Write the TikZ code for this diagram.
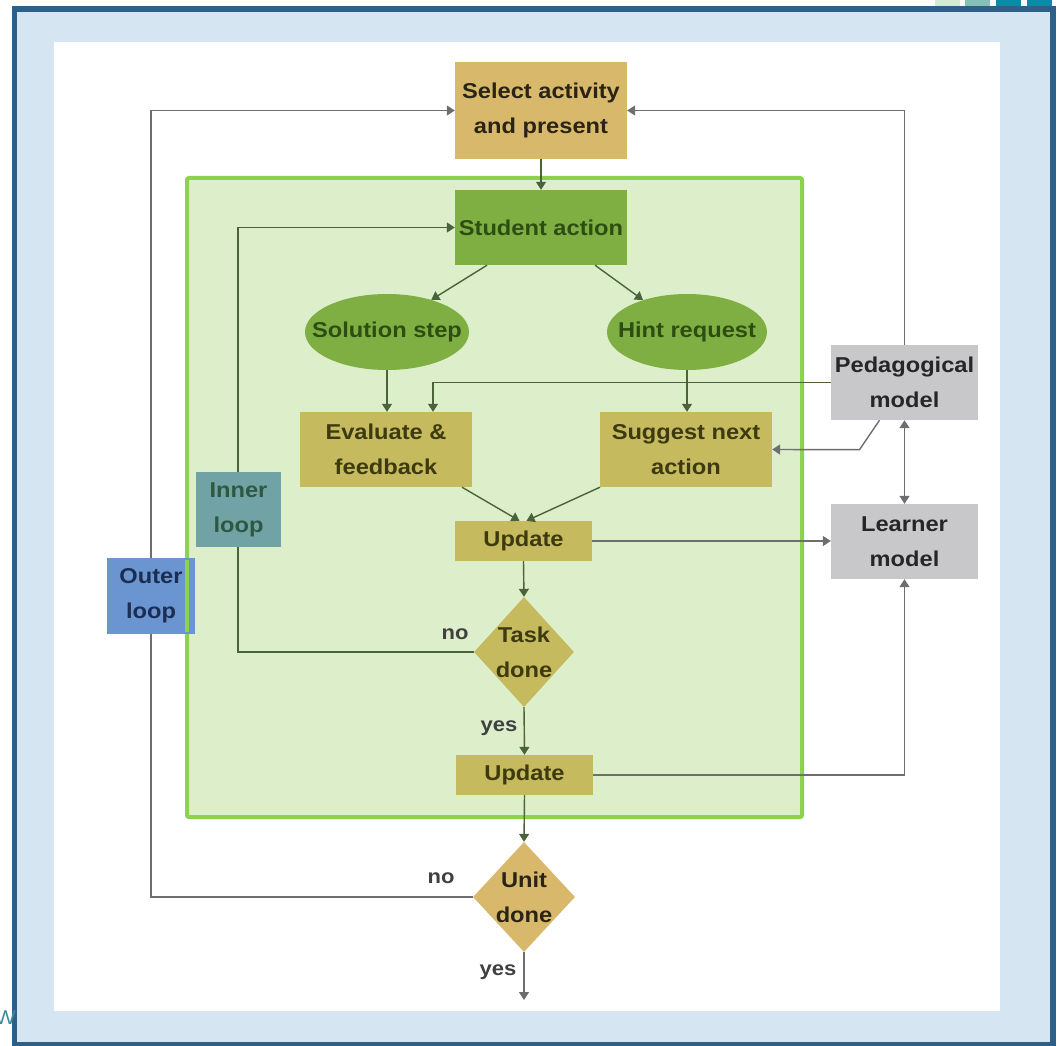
\documentclass[tikz,border=0pt]{standalone}
\usepackage{fontspec}
\setmainfont[FakeStretch=1.1]{Liberation Sans}
\usetikzlibrary{shapes.geometric,arrows.meta}

\definecolor{framedark}{HTML}{2D5F88}
\definecolor{framelight}{HTML}{D6E5F2}
\definecolor{loopborder}{HTML}{8CD24E}
\definecolor{loopfill}{HTML}{DDEFCA}
\definecolor{tan}{HTML}{D8B86B}
\definecolor{leaf}{HTML}{7FAF43}
\definecolor{olive}{HTML}{C6BA5E}
\definecolor{modelgrey}{HTML}{C8C8CA}
\definecolor{innerfill}{HTML}{71A3A6}
\definecolor{outerfill}{HTML}{6A95D0}
\definecolor{linegrey}{HTML}{6E6E6E}
\definecolor{linegreen}{HTML}{4B6338}
\definecolor{txtolive}{HTML}{3E3A10}
\definecolor{txtgreen}{HTML}{2E4D12}
\definecolor{txttan}{HTML}{2A2415}
\definecolor{txtinner}{HTML}{2E5840}
\definecolor{txtouter}{HTML}{1B2D52}
\definecolor{sqA}{HTML}{D3EAD5}
\definecolor{sqB}{HTML}{84C2B8}
\definecolor{sqC}{HTML}{0C89A6}
\definecolor{wteal}{HTML}{3B8C99}

\tikzset{
  lbl/.style={font=\bfseries\fontsize{21.5}{35}\selectfont, align=center},
  box/.style={rectangle, lbl, inner sep=0pt},
  oval/.style={ellipse, inner sep=0pt, fill=leaf},
  decision/.style={diamond, inner sep=0pt, draw=none},
  tip/.style={Triangle[width=10pt,length=8pt]},
  conn/.style={draw=linegrey, line width=1.4pt, -{Triangle[width=10pt,length=8pt]}},
  iconn/.style={draw=linegreen, line width=1.4pt, -{Triangle[width=10pt,length=8pt]}},
  answer/.style={font=\bfseries\fontsize{20}{24}\selectfont, text=black!75},
}

\begin{document}
\begin{tikzpicture}[x=1pt,y=-1pt]
  \useasboundingbox (0,0) rectangle (1058,1046);

  % slide frame and decorative squares
  \fill[sqA] (935,0) rectangle (960,6);
  \fill[sqB] (965,0) rectangle (990,6);
  \fill[sqC] (996,0) rectangle (1021,6);
  \fill[sqC] (1027,0) rectangle (1052,6);
  \fill[framedark] (12,6) rectangle (1056,1048);
  \fill[framelight] (17,12) rectangle (1050,1042);
  \fill[white] (54,42) rectangle (1000,1011);
  \node[text=wteal, font=\fontsize{20}{24}\selectfont, anchor=west, inner sep=0pt] (wmark) at (-5,1018) {W};

  % inner-loop container
  \fill[loopfill] (187,178) rectangle (802,817);
  \draw[loopborder, line width=4pt, rounded corners=2pt] (187,178) rectangle (802,817);

  % nodes
  \node[box, fill=tan, text=txttan, minimum width=172pt, minimum height=97pt] (sel) at (541,110.5) {Select activity\\and present};
  \node[box, fill=leaf, text=txtgreen, minimum width=172pt, minimum height=75pt] (stu) at (541,227.5) {Student action};
  \node[oval, minimum width=164pt, minimum height=76pt] (sol) at (387,332) {};
  \node[lbl, text=txtgreen] (soltxt) at (sol) {Solution step};
  \node[oval, minimum width=160pt, minimum height=76pt] (hint) at (687,332) {};
  \node[lbl, text=txtgreen] (hinttxt) at (hint) {Hint request};
  \node[box, fill=olive, text=txtolive, minimum width=172pt, minimum height=75pt] (eval) at (386,449.5) {Evaluate \&\\feedback};
  \node[box, fill=olive, text=txtolive, minimum width=172pt, minimum height=75pt] (sugg) at (686,449.5) {Suggest next\\action};
  \node[box, fill=olive, text=txtolive, minimum width=137pt, minimum height=40pt] (upd1) at (523.5,541) {Update};
  \node[decision, fill=olive, minimum width=100pt, minimum height=110pt] (task) at (524,652) {};
  \node[lbl, text=txtolive] (tasktxt) at (task) {Task\\done};
  \node[box, fill=olive, text=txtolive, minimum width=137pt, minimum height=40pt] (upd2) at (524.5,775) {Update};
  \node[decision, fill=tan, minimum width=102pt, minimum height=110pt] (unit) at (524,897) {};
  \node[lbl, text=txttan] (unittxt) at (unit) {Unit\\done};
  \node[box, fill=modelgrey, text=black!85, minimum width=147pt, minimum height=75pt] (ped) at (904.5,382.5) {Pedagogical\\model};
  \node[box, fill=modelgrey, text=black!85, minimum width=147pt, minimum height=75pt] (lrn) at (904.5,541.5) {Learner\\model};
  \coordinate (finish) at (524,1000);
  \coordinate (ilx) at (238,0);
  \coordinate (olx) at (151,0);

  % connectors
  \draw[iconn] (sel.south) -- (stu.north);
  \draw[iconn] ([xshift=-54pt]stu.south) -- (sol.36);
  \draw[iconn] ([xshift=54pt]stu.south) -- (hint.144);
  \draw[iconn] (sol.south) -- (sol.south |- eval.north);
  \draw[iconn] (hint.south) -- (hint.south |- sugg.north);
  \draw[iconn] (ped.west) -| ([xshift=47pt]eval.north);
  \draw[conn] ([xshift=-25pt]ped.south) -- ++(-20,29.5) -- (sugg.east);
  \draw[conn, {Triangle[width=10pt,length=8pt]}-{Triangle[width=10pt,length=8pt]}] (ped.south) -- (lrn.north);
  \draw[conn] (ped.north) |- (sel.east);
  \draw[iconn] ([xshift=76pt]eval.south) -- ([xshift=-4pt]upd1.north);
  \draw[iconn] ([xshift=-86pt]sugg.south) -- ([xshift=3pt]upd1.north);
  \draw[conn] (upd1.east) -- (upd1.east -| lrn.west);
  \draw[iconn] (upd1.south) -- (task.north);
  \draw[iconn] (task.west) -| (ilx |- stu.west) -- (stu.west);
  \draw[iconn] (task.south) -- (upd2.north);
  \draw[conn] (upd2.east) -| (lrn.south);
  \draw[iconn] (upd2.south) -- (unit.north);
  \draw[conn] (unit.west) -| (olx |- sel.west) -- (sel.west);
  \draw[conn] (unit.south) -- (finish);

  % branch labels
  \node[answer] (tno) at (455,634) {no};
  \node[answer] (tyes) at (499,728) {yes};
  \node[answer] (uno) at (441,878) {no};
  \node[answer] (uyes) at (498,972) {yes};

  % loop labels
  \node[box, fill=innerfill, text=txtinner, minimum width=85pt, minimum height=75pt] (inner) at (238.5,509.5) {Inner\\loop};
  \node[box, fill=outerfill, text=txtouter, minimum width=88pt, minimum height=76pt] (outer) at (151,596) {Outer\\loop};
  \draw[loopborder, line width=4pt] (187,560) -- (187,632);
\end{tikzpicture}
\end{document}
